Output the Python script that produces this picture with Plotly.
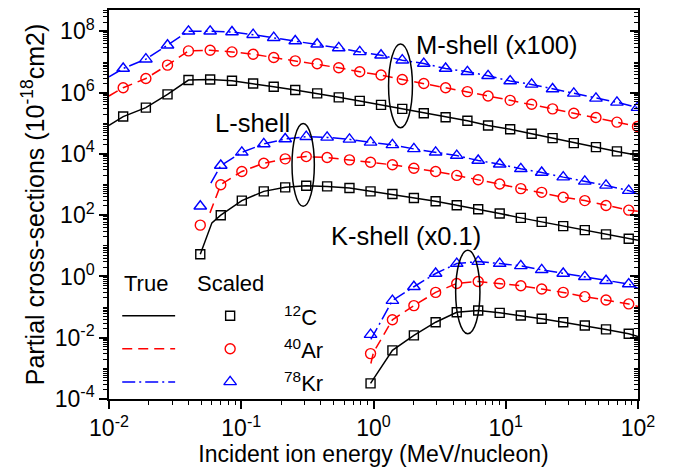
import plotly.graph_objects as go

# ---------------- data ----------------
# Incident ion energy (MeV/nucleon) of the "scaled" points
E_M = [0.0128, 0.019, 0.0277, 0.0399, 0.0582, 0.0851, 0.123, 0.176, 0.256, 0.375,
       0.546, 0.787, 1.14, 1.65, 2.40, 3.51, 5.13, 7.35, 10.8, 15.7, 22.6, 32.7,
       48.1, 69.3, 99.1]
E_L = [0.049, 0.070, 0.101, 0.148, 0.215, 0.310, 0.446, 0.658, 0.95, 1.39, 2.02,
       2.95, 4.26, 6.19, 9.0, 13.0, 18.7, 27.2, 39.6, 57.3, 85.1]
E_K = [0.95, 1.39, 2.02, 2.95, 4.26, 6.19, 9.0, 13.0, 18.7, 27.2, 39.6, 57.3, 85.1]

# M-shell (x100), scaled points
M_C = [1.66e5, 3.26e5, 8.81e5, 2.58e6, 2.70e6, 2.45e6, 2.00e6, 1.57e6, 1.22e6, 9.48e5,
       7.03e5, 5.38e5, 3.99e5, 2.96e5, 2.13e5, 1.58e5, 1.21e5, 8.49e4, 6.43e4, 4.56e4,
       3.28e4, 2.26e4, 1.67e4, 1.21e4, 9.02e3]
M_Ar = [1.45e6, 2.91e6, 7.93e6, 2.31e7, 2.43e7, 2.14e7, 1.80e7, 1.40e7, 1.09e7, 8.75e6,
        6.49e6, 4.81e6, 3.76e6, 2.70e6, 2.00e6, 1.45e6, 1.08e6, 7.82e5, 5.62e5, 4.17e5,
        2.96e5, 2.13e5, 1.54e5, 1.09e5, 7.87e4]
M_Kr = [6.15e6, 1.24e7, 3.54e7, 1.01e8, 1.01e8, 9.55e7, 7.82e7, 6.24e7, 4.88e7, 3.81e7,
        2.89e7, 2.14e7, 1.67e7, 1.15e7, 8.93e6, 6.15e6, 4.81e6, 3.56e6, 2.40e6, 1.86e6,
        1.32e6, 9.48e5, 6.53e5, 4.84e5, 3.26e5]

# L-shell, scaled points
L_C = [5.32, 100, 300, 601, 811, 920, 873, 769, 601, 492, 365, 285, 211, 157, 114,
       81.8, 60.7, 44.1, 32.7, 23.7, 17.1]
L_Ar = [47.4, 991, 2680, 4980, 6920, 8200, 7620, 6410, 5370, 4420, 3430, 2680, 1990,
        1440, 1040, 736, 558, 384, 300, 207, 146]
L_Kr = [196, 4190, 11300, 21200, 30800, 36600, 34700, 29900, 23900, 19700, 14600,
        11300, 8850, 6100, 4620, 3270, 2480, 1750, 1270, 942, 634]

# K-shell (x0.1), scaled points
K_C = [3.23e-4, 3.88e-3, 1.19e-2, 3.21e-2, 6.79e-2, 7.71e-2, 6.49e-2, 5.31e-2,
       4.15e-2, 3.21e-2, 2.51e-2, 1.87e-2, 1.35e-2]
K_Ar = [3.03e-3, 3.85e-2, 0.112, 0.302, 0.592, 0.687, 0.592, 0.499, 0.390, 0.302,
        0.219, 0.171, 0.127]
K_Kr = [1.26e-2, 0.163, 0.462, 1.25, 2.64, 3.06, 2.64, 2.22, 1.65, 1.25, 0.977,
        0.724, 0.566]

# "True" curves: extra points read where the lines start / end away from the markers
M_head_E = [0.01]
M_C_head, M_Ar_head, M_Kr_head = [8.5e4], [7.8e5], [3.3e6]

L_C_head_E, L_C_head = [0.049, 0.060], [5.32, 56.4]
L_Ar_head_E, L_Ar_head = [0.058], [119]
L_Kr_head_E, L_Kr_head = [0.0589], [1117]
L_tail_E = [100]
L_C_tail, L_Ar_tail, L_Kr_tail = [15.1], [135], [492]

K_Ar_head_E, K_Ar_head = [0.955, 1.0], [1.44e-3, 3.34e-3]
K_Kr_head_E, K_Kr_head = [0.955], [8.83e-3]
K_tail_E = [100]
K_C_tail, K_Ar_tail, K_Kr_tail = [1.10e-2], [0.104], [0.407]

x_tickvals = [0.01, 0.1, 1, 10, 100]
x_ticktext = ["10<sup>-2</sup>", "10<sup>-1</sup>", "10<sup>0</sup>", "10<sup>1</sup>", "10<sup>2</sup>"]
y_tickvals = [1e-4, 1e-2, 1, 1e2, 1e4, 1e6, 1e8]
y_ticktext = ["10<sup>-4</sup>", "10<sup>-2</sup>", "10<sup>0</sup>", "10<sup>2</sup>",
              "10<sup>4</sup>", "10<sup>6</sup>", "10<sup>8</sup>"]
species = ["<sup>12</sup>C", "<sup>40</sup>Ar", "<sup>78</sup>Kr"]

# ---------------- styling ----------------
BLACK, RED, BLUE = "#000000", "#FF0000", "#0000FF"
DASH = {"C": "solid", "Ar": "10px,6px", "Kr": "13px,4px,2px,4px"}
COL = {"C": BLACK, "Ar": RED, "Kr": BLUE}
SYM = {"C": ("square-open", 9), "Ar": ("circle-open", 10), "Kr": ("triangle-up-open", 11)}
FONT = "Liberation Sans, Arial, sans-serif"

fig = go.Figure()


def add_line(x, y, sp):
    fig.add_trace(go.Scatter(x=x, y=y, mode="lines", showlegend=False, hoverinfo="skip",
                             line=dict(color=COL[sp], width=1.5, dash=DASH[sp])))


def add_markers(x, y, sp):
    fig.add_trace(go.Scatter(x=x, y=y, mode="markers", showlegend=False,
                             marker=dict(symbol=SYM[sp][0], size=SYM[sp][1], color=COL[sp],
                                         line=dict(color=COL[sp], width=1.4))))


# True curves
add_line(M_head_E + E_M, M_C_head + M_C, "C")
add_line(M_head_E + E_M, M_Ar_head + M_Ar, "Ar")
add_line(M_head_E + E_M, M_Kr_head + M_Kr, "Kr")
add_line(L_C_head_E + E_L[1:] + L_tail_E, L_C_head + L_C[1:] + L_C_tail, "C")
add_line(L_Ar_head_E + E_L[1:] + L_tail_E, L_Ar_head + L_Ar[1:] + L_Ar_tail, "Ar")
add_line(L_Kr_head_E + E_L[1:] + L_tail_E, L_Kr_head + L_Kr[1:] + L_Kr_tail, "Kr")
add_line(E_K + K_tail_E, K_C + K_C_tail, "C")
add_line(K_Ar_head_E + E_K[1:] + K_tail_E, K_Ar_head + K_Ar[1:] + K_Ar_tail, "Ar")
add_line(K_Kr_head_E + E_K[1:] + K_tail_E, K_Kr_head + K_Kr[1:] + K_Kr_tail, "Kr")

# Scaled points
for E, vals in ((E_M, (M_C, M_Ar, M_Kr)), (E_L, (L_C, L_Ar, L_Kr)), (E_K, (K_C, K_Ar, K_Kr))):
    for sp, v in zip(("C", "Ar", "Kr"), vals):
        add_markers(E, v, sp)

# dummy trace to activate right-hand tick axis
fig.add_trace(go.Scatter(x=[None], y=[None], yaxis="y2", showlegend=False, hoverinfo="skip"))

# custom legend on an overlay axis in plot-fraction units
LEG_Y = [0.214, 0.129, 0.044]
for sp, yy in zip(("C", "Ar", "Kr"), LEG_Y):
    fig.add_trace(go.Scatter(x=[0.025, 0.125], y=[yy, yy], xaxis="x3", yaxis="y3", mode="lines",
                             showlegend=False, hoverinfo="skip",
                             line=dict(color=COL[sp], width=1.5, dash=DASH[sp])))
    fig.add_trace(go.Scatter(x=[0.229], y=[yy], xaxis="x3", yaxis="y3", mode="markers",
                             showlegend=False, hoverinfo="skip",
                             marker=dict(symbol=SYM[sp][0], size=SYM[sp][1], color=COL[sp],
                                         line=dict(color=COL[sp], width=1.4))))

minor_x = [k * 10.0 ** d for d in range(-2, 2) for k in range(2, 10)]
minor_y = [k * 10.0 ** d for d in range(-4, 9) for k in range(1, 10)
           if not (k == 1 and d % 2 == 0) and k * 10.0 ** d <= 5e8]

axis_common = dict(type="log", showgrid=False, zeroline=False, showline=True,
                   linecolor="black", linewidth=1.5, mirror=True, ticks="outside",
                   ticklen=8, tickwidth=1.5, tickcolor="black",
                   tickfont=dict(size=23, family=FONT, color="black"))

# the page body has an 8px default margin, so the figure is sized/margined to compensate
fig.update_layout(
    width=667, height=465,
    margin=dict(l=101, r=37, t=0, b=74),
    plot_bgcolor="white", paper_bgcolor="white",
    showlegend=False,
    font=dict(family=FONT, color="black"),
    xaxis=dict(axis_common, range=[-2, 2], tickmode="array", tickvals=x_tickvals,
               ticktext=x_ticktext,
               minor=dict(tickmode="array", tickvals=minor_x, ticks="outside", ticklen=4,
                          tickwidth=1.2, tickcolor="black"),
               title=dict(text="Incident ion energy (MeV/nucleon)",
                          font=dict(size=23, family=FONT, color="black"), standoff=5)),
    yaxis=dict(axis_common, range=[-4, 8.699], tickmode="array", tickvals=y_tickvals,
               ticktext=y_ticktext,
               minor=dict(tickmode="array", tickvals=minor_y, ticks="outside", ticklen=4,
                          tickwidth=1.2, tickcolor="black"),
               title=dict(text="Partial cross-sections (10<sup>-18</sup>cm2)",
                          font=dict(size=25, family=FONT, color="black"), standoff=3)),
    yaxis2=dict(type="log", overlaying="y", side="right", anchor="x", range=[-4, 8.699],
                showgrid=False, zeroline=False, showline=False, showticklabels=False,
                ticks="inside", ticklen=8, tickwidth=1.5, tickcolor="black",
                tickmode="array", tickvals=y_tickvals,
                minor=dict(tickmode="array", tickvals=minor_y, ticks="inside", ticklen=4,
                           tickwidth=1.2, tickcolor="black")),
    xaxis3=dict(overlaying="x", anchor="y3", range=[0, 1], visible=False),
    yaxis3=dict(overlaying="y", anchor="x3", range=[0, 1], visible=False),
)

# shell ellipses (data coordinates)
ellipses = [(1.30, 1.97, 7.16e4, 3.88e7), (0.242, 0.357, 196, 9.89e4), (4.18, 6.38, 1.35e-2, 7.16)]
for x0, x1, y0, y1 in ellipses:
    fig.add_shape(type="circle", xref="x", yref="y", x0=x0, x1=x1, y0=y0, y1=y1,
                  line=dict(color="black", width=1.5))

# shell labels (annotation positions in log10 units on log axes)
labels = [("M-shell (x100)", 0.303, 7.547), ("L-shell", -1.210, 5.007), ("K-shell (x0.1)", -0.339, 1.319)]
for txt, lx, ly in labels:
    fig.add_annotation(text=txt, x=lx, y=ly, xref="x", yref="y", xanchor="left",
                       yanchor="middle", showarrow=False, font=dict(size=25.5, family=FONT, color="black"))

# legend texts
fig.add_annotation(text="True", x=0.0705, y=0.298, xref="paper", yref="paper", showarrow=False,
                   xanchor="center", yanchor="middle", font=dict(size=22, family=FONT, color="black"))
fig.add_annotation(text="Scaled", x=0.230, y=0.298, xref="paper", yref="paper", showarrow=False,
                   xanchor="center", yanchor="middle", font=dict(size=22, family=FONT, color="black"))
for name, yy in zip(species, LEG_Y):
    fig.add_annotation(text=name, x=0.327, y=yy, xref="paper", yref="paper", xanchor="left",
                       yanchor="middle", showarrow=False, font=dict(size=22, family=FONT, color="black"))

fig.write_html("out.html")
